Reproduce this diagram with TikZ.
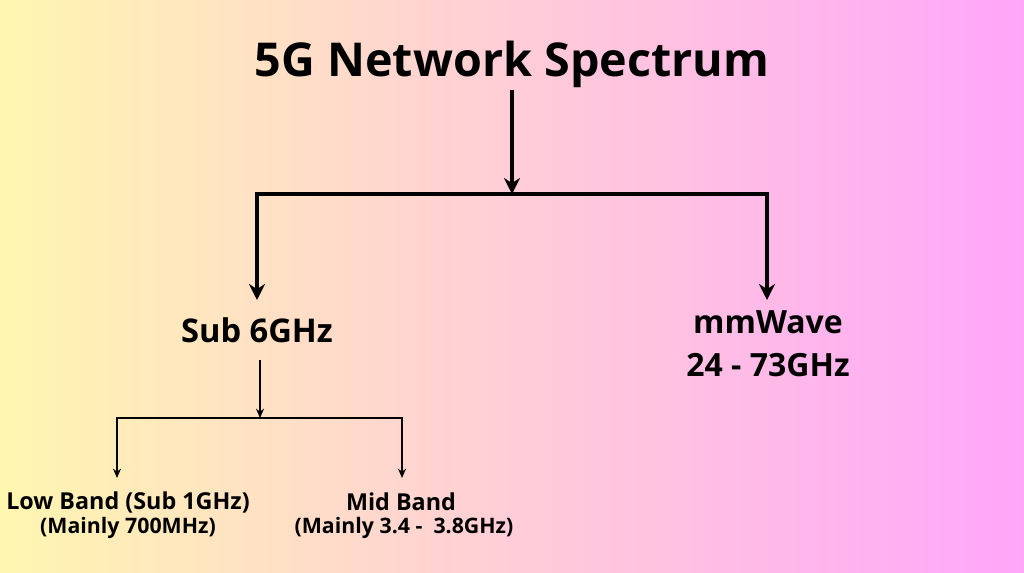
\documentclass[tikz,border=0pt]{standalone}
\usepackage{fontspec}
\setmainfont{Open Sans}
\usetikzlibrary{arrows.meta}
\definecolor{lefty}{RGB}{255,246,176}
\definecolor{midp}{RGB}{255,205,215}
\definecolor{rightp}{RGB}{255,166,250}
\tikzset{
  thick line/.style={line width=3pt,-{Stealth[length=12pt,width=12pt]}},
  thin line/.style={line width=1.2pt,-{Stealth[length=7pt,width=6pt]}},
  lbl/.style={font=\bfseries,align=center,inner sep=1pt}
}
\begin{document}
\begin{tikzpicture}[x=0.75pt,y=-0.75pt]
\shade[left color=lefty,right color=rightp,middle color=midp] (0,0) rectangle (1024,573);
\useasboundingbox (0,0) rectangle (1024,573);
\node[lbl,font=\fontsize{35}{40}\bfseries\selectfont] (title) at (512,64) {5G Network Spectrum};
\node[lbl,font=\fontsize{24.5}{28}\bfseries\selectfont] (sub) at (257,330) {Sub 6GHz};
\node[lbl,font=\fontsize{24}{32}\bfseries\selectfont] (mm) at (768,344) {mmWave\\24 - 73GHz};
\node[lbl,font=\fontsize{17.5}{20}\bfseries\selectfont] (low) at (128,502) {Low Band (Sub 1GHz)};
\node[lbl,font=\fontsize{16}{18}\bfseries\selectfont] (lowm) at (128,528) {(Mainly 700MHz)};
\node[lbl,font=\fontsize{17.5}{20}\bfseries\selectfont] (mid) at (401,502) {Mid Band};
\node[lbl,font=\fontsize{16}{18}\bfseries\selectfont] (midm) at (404,528) {(Mainly 3.4 -\ \ 3.8GHz)};
\coordinate (j1) at (512,194);
\coordinate (j2) at (260,418);
\draw[thick line] (512,90) -- (j1);
\draw[thick line,line join=miter] (j1) -| (257,300);
\draw[thick line,line join=miter] (j1) -| (767,300);
\draw[thin line] (260,360) -- (j2);
\draw[thin line] (j2) -| (117,478);
\draw[thin line] (j2) -| (402,478);
\end{tikzpicture}
\end{document}
